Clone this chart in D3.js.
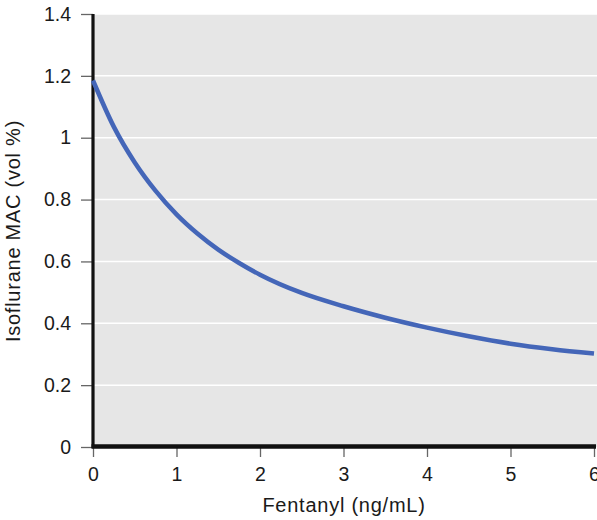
<!DOCTYPE html>
<html>
<head>
<meta charset="utf-8">
<script src="https://cdn.jsdelivr.net/npm/d3@7"></script>
<style>
  html, body { margin: 0; padding: 0; background: #fff; }
  svg { display: block; }
  text { font-family: "Liberation Sans", Arial, sans-serif; }
</style>
</head>
<body>
<svg id="chart" width="597" height="520"></svg>
<script>
// Data
const fentanyl = [0, 0.25, 0.5, 0.75, 1, 1.25, 1.5, 1.75, 2, 2.5, 3, 3.5, 4, 4.5, 5, 5.5, 6];
const isofluraneMAC = [1.185, 1.035, 0.92, 0.828, 0.752, 0.690, 0.638, 0.595, 0.557, 0.498, 0.455, 0.418, 0.386, 0.358, 0.334, 0.316, 0.302];
const xTicks = [0, 1, 2, 3, 4, 5, 6];
const yTicks = [0, 0.2, 0.4, 0.6, 0.8, 1, 1.2, 1.4];
const xTitle = "Fentanyl (ng/mL)";
const yTitle = "Isoflurane MAC (vol %)";

const svg = d3.select("#chart");
const mLeft = 93, mRight = 594, mTop = 14, mBottom = 447;

const x = d3.scaleLinear().domain([0, 6]).range([mLeft, mRight]);
const y = d3.scaleLinear().domain([0, 1.4]).range([mBottom, mTop]);

// background
svg.append("rect")
  .attr("x", mLeft).attr("y", mTop)
  .attr("width", 597 - mLeft).attr("height", mBottom - mTop)
  .attr("fill", "#e6e6e6");

// gridlines
svg.append("g").selectAll("line")
  .data(yTicks.filter(d => d > 0))
  .join("line")
  .attr("x1", mLeft).attr("x2", 597)
  .attr("y1", d => y(d)).attr("y2", d => y(d))
  .attr("stroke", "#ffffff").attr("stroke-width", 1.5);

// y axis
const yAxis = svg.append("g")
  .attr("transform", `translate(${mLeft},0)`)
  .call(d3.axisLeft(y).tickValues(yTicks).tickSize(12).tickPadding(10)
    .tickFormat(d => String(+d.toFixed(1))));
yAxis.select(".domain").remove();
yAxis.selectAll(".tick line").attr("stroke", "#666").attr("stroke-width", 1.3);
yAxis.selectAll(".tick text")
  .attr("font-size", 19.5).attr("fill", "#1a1a1a")
  .attr("font-family", "Liberation Sans, Arial, sans-serif");

// x axis
const xAxis = svg.append("g")
  .attr("transform", `translate(0,${mBottom})`)
  .call(d3.axisBottom(x).tickValues(xTicks).tickSize(10).tickPadding(10)
    .tickFormat(d3.format("d")));
xAxis.select(".domain").remove();
xAxis.selectAll(".tick line").attr("stroke", "#666").attr("stroke-width", 1.3);
xAxis.selectAll(".tick text")
  .attr("font-size", 19.5).attr("fill", "#1a1a1a")
  .attr("font-family", "Liberation Sans, Arial, sans-serif");

// axis lines (thick black)
svg.append("line")
  .attr("x1", mLeft).attr("x2", mLeft)
  .attr("y1", mTop).attr("y2", mBottom + 1)
  .attr("stroke", "#111").attr("stroke-width", 3.2);
svg.append("line")
  .attr("x1", mLeft - 1.5).attr("x2", 596)
  .attr("y1", mBottom - 0.5).attr("y2", mBottom - 0.5)
  .attr("stroke", "#111").attr("stroke-width", 4.5);

// curve
const line = d3.line()
  .x((d, i) => x(fentanyl[i]))
  .y(d => y(d))
  .curve(d3.curveMonotoneX);
svg.append("path")
  .datum(isofluraneMAC)
  .attr("d", line)
  .attr("fill", "none")
  .attr("stroke", "#4466b8")
  .attr("stroke-width", 4.5)
  .attr("stroke-linecap", "butt");

// titles
svg.append("text")
  .attr("x", 344).attr("y", 511.5)
  .attr("text-anchor", "middle")
  .attr("font-size", 20).attr("letter-spacing", 0.75).attr("fill", "#1a1a1a")
  .text(xTitle);
svg.append("text")
  .attr("transform", "translate(20,231) rotate(-90)")
  .attr("text-anchor", "middle")
  .attr("font-size", 20).attr("letter-spacing", 0.75).attr("fill", "#1a1a1a")
  .text(yTitle);
</script>
</body>
</html>
